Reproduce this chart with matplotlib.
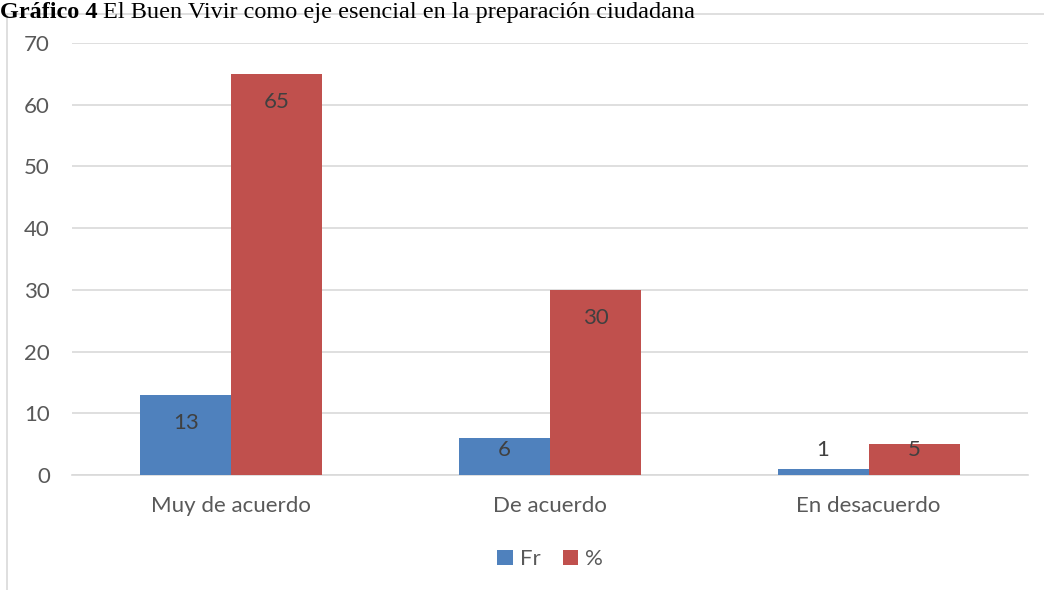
import matplotlib.pyplot as plt
import numpy as np
from matplotlib.patches import Rectangle

# Дані графіка
categories = ["Muy de acuerdo", "De acuerdo", "En desacuerdo"]
fr_values = [13, 6, 1]
pct_values = [65, 30, 5]
series_names = ["Fr", "%"]
y_ticks = [0, 10, 20, 30, 40, 50, 60, 70]

BLUE = "#4F81BD"
RED = "#C0504D"
TEXT = "#595959"
GRID = "#D9D9D9"
FS = 16

plt.rcParams["font.family"] = ["Lato", "DejaVu Sans"]

fig = plt.figure(figsize=(10.44, 5.9), dpi=100)
ax = fig.add_axes([72 / 1044, 115 / 590, 956 / 1044, 432 / 590])

x = np.arange(len(categories))
width = 0.286
bars_fr = ax.bar(x - width / 2, fr_values, width, color=BLUE, label=series_names[0], zorder=3)
bars_pct = ax.bar(x + width / 2, pct_values, width, color=RED, label=series_names[1], zorder=3)

# Підписи значень
for bars, vals in [(bars_fr, fr_values), (bars_pct, pct_values)]:
    for b, v in zip(bars, vals):
        ax.text(b.get_x() + b.get_width() / 2, max(v - 4.5, 4.0), str(v),
                ha="center", va="center", fontsize=FS, color="#404040", zorder=4)

ax.set_xlim(-0.5, 2.5)
ax.set_ylim(0, 70)
ax.set_yticks(y_ticks)
ax.set_xticks(x)
ax.set_xticklabels(categories)
ax.tick_params(axis="both", length=0, labelsize=FS, colors=TEXT)
ax.tick_params(axis="y", pad=16)
ax.tick_params(axis="x", pad=15)
ax.grid(axis="y", color=GRID, linewidth=1.2, zorder=0)
for s in ["top", "right", "left"]:
    ax.spines[s].set_visible(False)
ax.spines["bottom"].set_color(GRID)
ax.spines["bottom"].set_linewidth(1.2)

leg = ax.legend(loc="center", bbox_to_anchor=(0.5, -0.195), ncol=2, frameon=False,
                fontsize=FS, handlelength=0.7, handleheight=0.7, handletextpad=0.3,
                columnspacing=1.0)
for t in leg.get_texts():
    t.set_color(TEXT)

# Рамка області діаграми
fig.patches.append(Rectangle((7 / 1044, -0.01), 1.02, 1 - 14 / 590 + 0.01,
                             transform=fig.transFigure, fill=False,
                             edgecolor=GRID, linewidth=1.2))

# Заголовок
ty = 1 - 18 / 590
t1 = fig.text(0.0, ty, "Gráfico 4", fontsize=17.5, fontweight="bold",
              family="Liberation Serif", va="baseline", ha="left")
fig.canvas.draw()
bb = t1.get_window_extent()
fig.text((bb.x1 + 5) / 1044, ty, "El Buen Vivir como eje esencial en la preparación ciudadana",
         fontsize=17.5, family="Liberation Serif", va="baseline", ha="left")

plt.savefig("out.png", dpi=100)
